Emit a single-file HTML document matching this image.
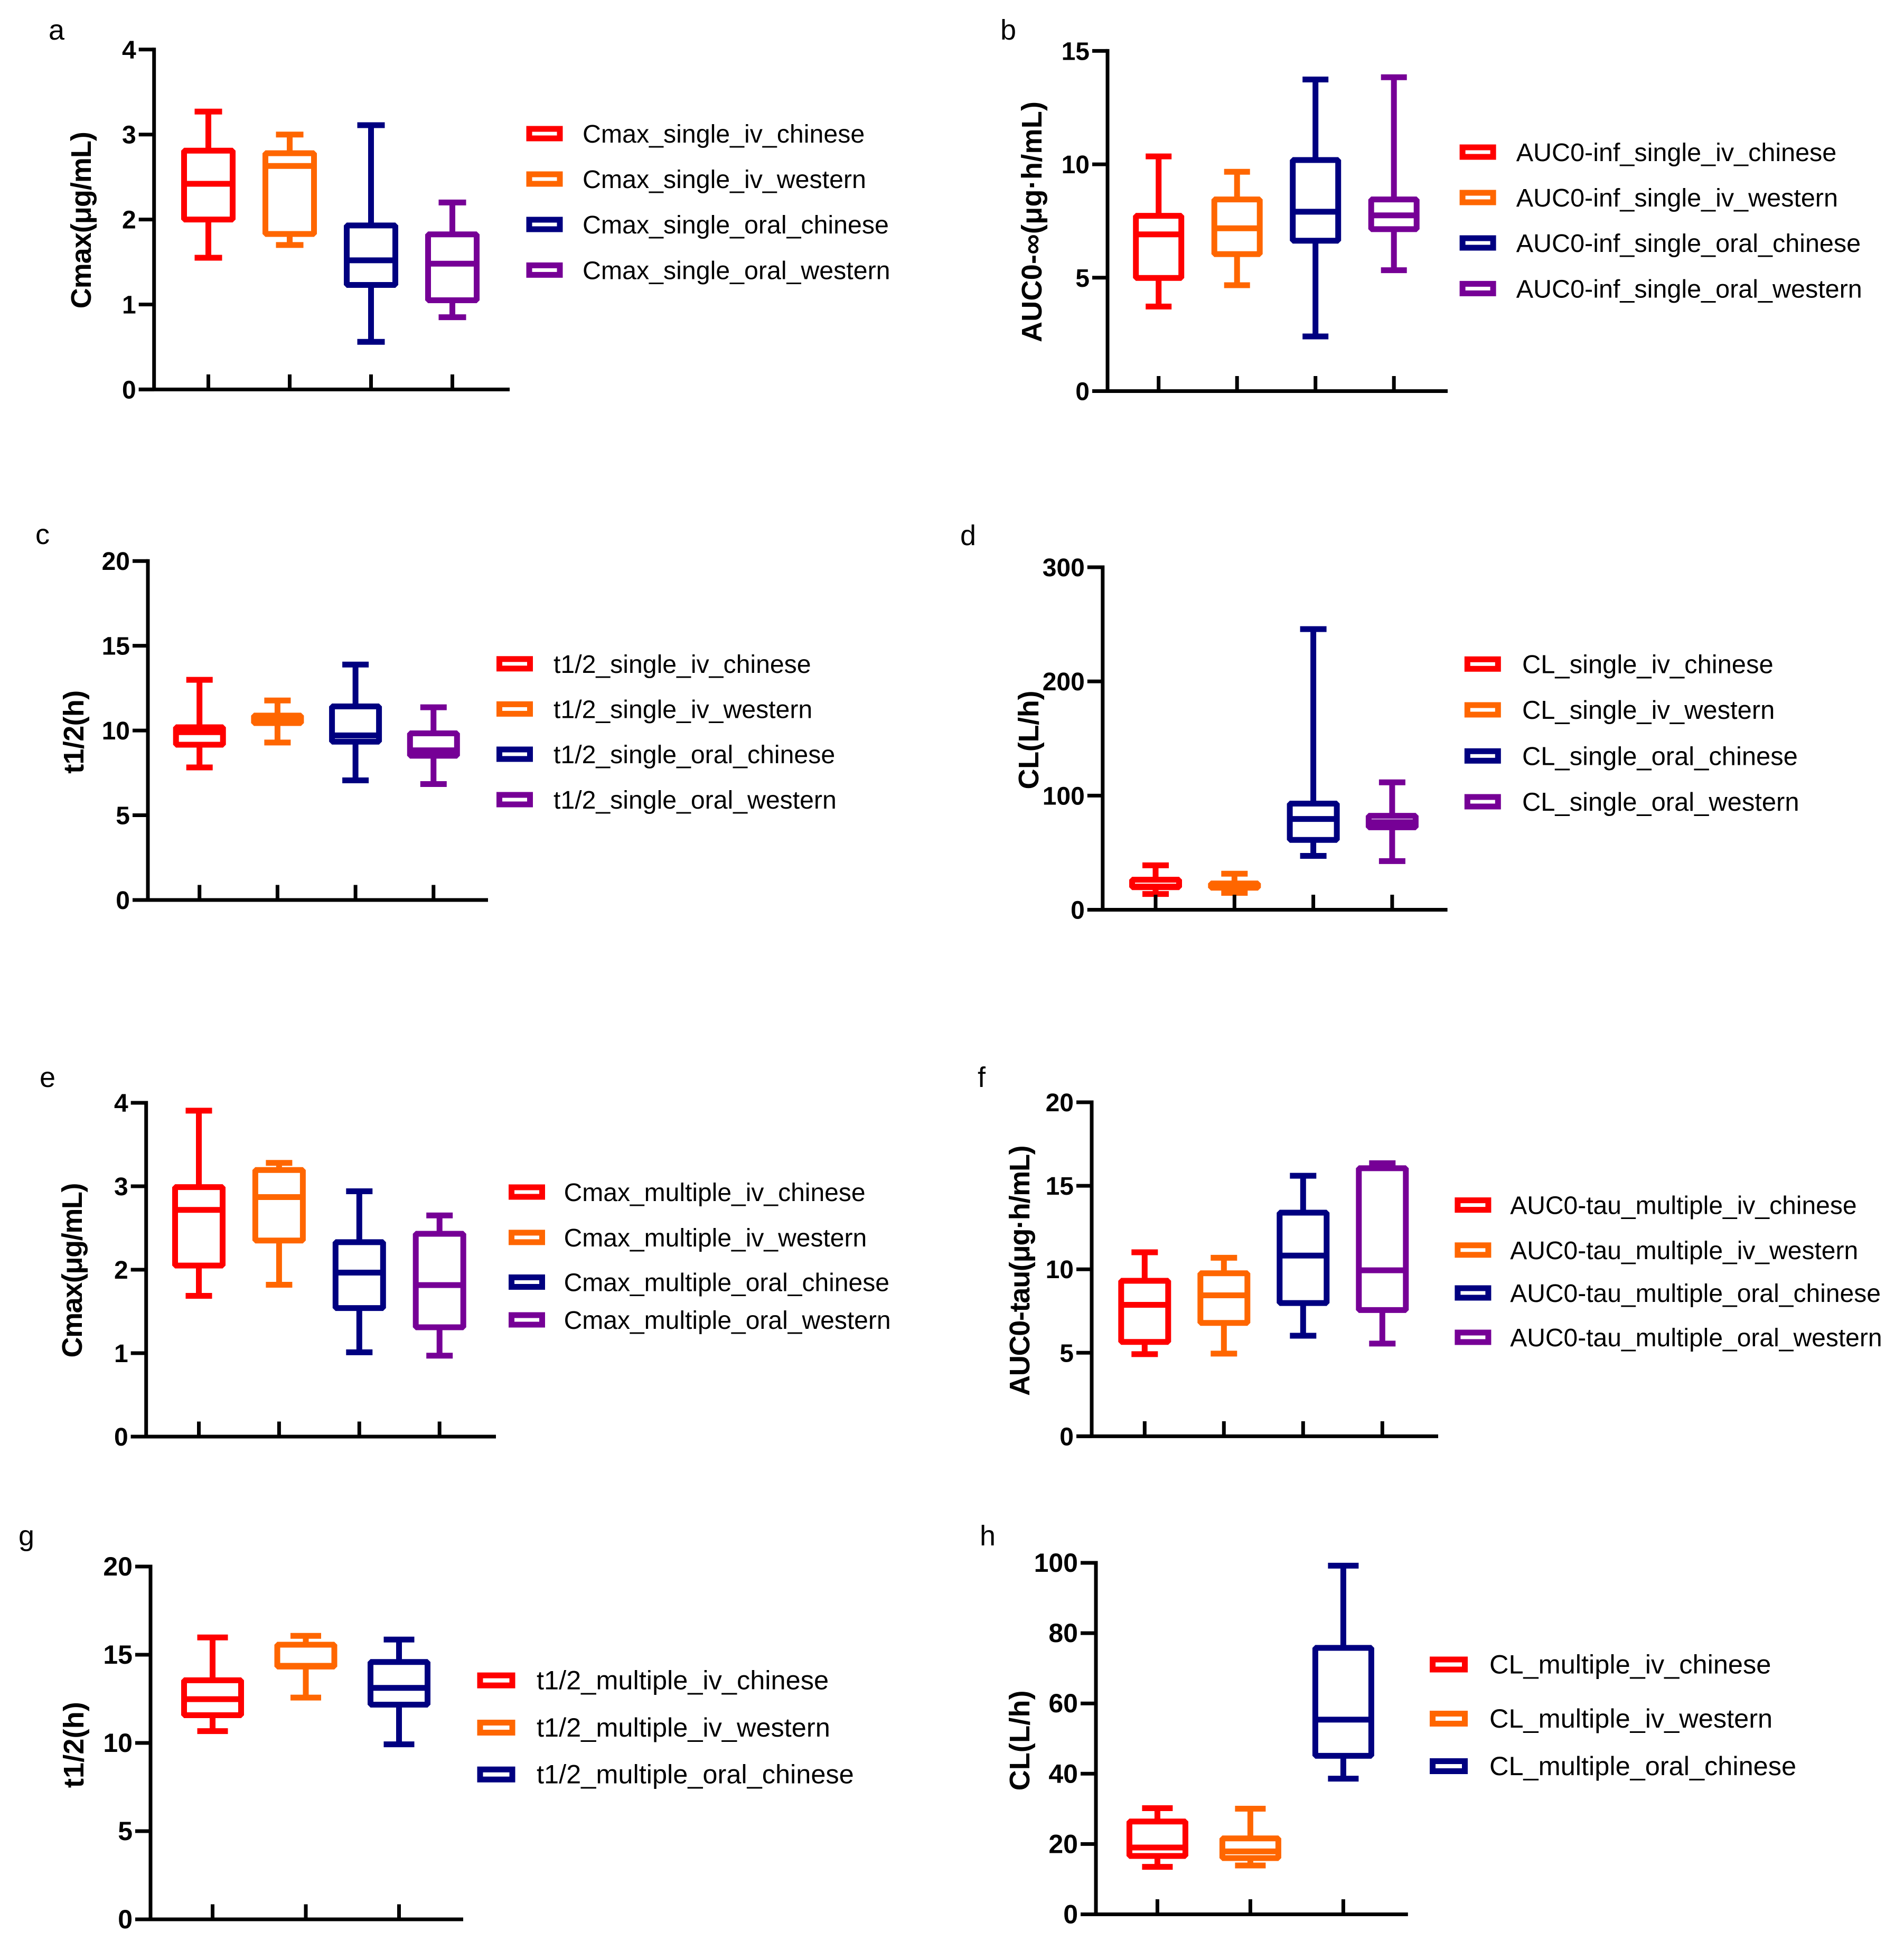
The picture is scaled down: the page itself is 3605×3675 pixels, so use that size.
<!DOCTYPE html>
<html lang="en">
<head>
<meta charset="utf-8">
<title>Pharmacokinetic box plots</title>
<style>
html,body{margin:0;padding:0;background:#fff}
svg{display:block}
text{font-family:"Liberation Sans",Arial,sans-serif;fill:#000}
</style>
</head>
<body>
<svg id="figure" xmlns="http://www.w3.org/2000/svg" width="3605" height="3675" viewBox="0 0 3605 3675"></svg>
<script>
// ---------- panel a ----------
const aLabels = ['Cmax_single_iv_chinese','Cmax_single_iv_western','Cmax_single_oral_chinese','Cmax_single_oral_western'];
const aTicks = [0,1,2,3,4];
const aMin = [1.55,1.70,0.56,0.85];
const aQ1 = [2.00,1.83,1.23,1.05];
const aMedian = [2.42,2.63,1.52,1.48];
const aQ3 = [2.81,2.78,1.93,1.825];
const aMax = [3.27,3.00,3.11,2.20];
// ---------- panel b ----------
const bLabels = ['AUC0-inf_single_iv_chinese','AUC0-inf_single_iv_western','AUC0-inf_single_oral_chinese','AUC0-inf_single_oral_western'];
const bTicks = [0,5,10,15];
const bMin = [3.73,4.67,2.41,5.33];
const bQ1 = [4.99,6.04,6.63,7.14];
const bMedian = [6.91,7.18,7.91,7.75];
const bQ3 = [7.73,8.45,10.19,8.45];
const bMax = [10.35,9.67,13.74,13.84];
// ---------- panel c ----------
const cLabels = ['t1/2_single_iv_chinese','t1/2_single_iv_western','t1/2_single_oral_chinese','t1/2_single_oral_western'];
const cTicks = [0,5,10,15,20];
const cMin = [7.82,9.29,7.06,6.84];
const cQ1 = [9.16,10.44,9.34,8.51];
const cMedian = [9.90,10.66,9.71,8.83];
const cQ3 = [10.19,10.88,11.42,9.83];
const cMax = [12.99,11.77,13.89,11.37];
// ---------- panel d ----------
const dLabels = ['CL_single_iv_chinese','CL_single_iv_western','CL_single_oral_chinese','CL_single_oral_western'];
const dTicks = [0,100,200,300];
const dMin = [13.8,14.8,47.2,42.6];
const dQ1 = [19.8,19.3,61.2,72.2];
const dMedian = [20.3,21.3,79.5,76.7];
const dQ3 = [26.3,23.0,93.0,82.3];
const dMax = [38.9,31.6,245.8,111.6];
// ---------- panel e ----------
const eLabels = ['Cmax_multiple_iv_chinese','Cmax_multiple_iv_western','Cmax_multiple_oral_chinese','Cmax_multiple_oral_western'];
const eTicks = [0,1,2,3,4];
const eMin = [1.687,1.82,1.01,0.97];
const eQ1 = [2.05,2.35,1.54,1.31];
const eMedian = [2.717,2.87,1.965,1.816];
const eQ3 = [2.99,3.195,2.33,2.43];
const eMax = [3.906,3.28,2.94,2.65];
// ---------- panel f ----------
const fLabels = ['AUC0-tau_multiple_iv_chinese','AUC0-tau_multiple_iv_western','AUC0-tau_multiple_oral_chinese','AUC0-tau_multiple_oral_western'];
const fTicks = [0,5,10,15,20];
const fMin = [4.92,4.95,6.02,5.55];
const fQ1 = [5.65,6.79,7.98,7.56];
const fMedian = [7.87,8.44,10.82,9.94];
const fQ3 = [9.31,9.76,13.39,16.05];
const fMax = [11.02,10.69,15.60,16.35];
// ---------- panel g ----------
const gLabels = ['t1/2_multiple_iv_chinese','t1/2_multiple_iv_western','t1/2_multiple_oral_chinese'];
const gTicks = [0,5,10,15,20];
const gMin = [10.67,12.57,9.92];
const gQ1 = [11.57,14.33,12.17];
const gMedian = [12.48,14.37,13.12];
const gQ3 = [13.55,15.57,14.59];
const gMax = [15.98,16.07,15.86];
// ---------- panel h ----------
const hLabels = ['CL_multiple_iv_chinese','CL_multiple_iv_western','CL_multiple_oral_chinese'];
const hTicks = [0,20,40,60,80,100];
const hMin = [13.5,13.9,38.6];
const hQ1 = [16.6,16.0,45.1];
const hMedian = [19.0,17.9,55.4];
const hQ3 = [26.4,21.6,75.8];
const hMax = [30.2,30.06,99.2];

const seriesColors = ['#ff0000','#ff6600','#000080','#760096'];

// Layout of each panel (frame only; marks derive from the data arrays above through yScale)
const panels = [
 {id:'a',letter:[92,75],title:'Cmax(μg/mL)',titleX:172,titleY:416.7,titleLen:335,axisX:291.7,top:93.8,y0:737.4,firstX:394.5,stepX:154,endX:965,boxW:92,capW:52,legSw:996.5,legTx:1103,legFont:48.3,tickFont:48,swW:58,swH:18,legYs:[253,339,425,511.4],labels:aLabels,ticks:aTicks,min:aMin,q1:aQ1,med:aMedian,q3:aQ3,max:aMax},
 {id:'b',letter:[1894,75],title:'AUC0-∞(μg·h/mL)',titleX:1972,titleY:420,titleLen:456,axisX:2097,top:96.4,y0:740.5,firstX:2193.7,stepX:148.5,endX:2741,boxW:86,capW:49,legSw:2763.6,legTx:2870.7,legFont:48.5,tickFont:48,swW:58,swH:18,legYs:[288,374,460,546.4],labels:bLabels,ticks:bTicks,min:bMin,q1:bQ1,med:bMedian,q3:bQ3,max:bMax},
 {id:'c',letter:[67,1030],title:'t1/2(h)',titleX:158,titleY:1385.8,titleLen:158,axisX:280,top:1062.2,y0:1704,firstX:377.7,stepX:147.7,endX:924,boxW:89,capW:50,legSw:940,legTx:1048,legFont:48.2,tickFont:48,swW:58,swH:18,legYs:[1256.8,1342.4,1428,1514],labels:cLabels,ticks:cTicks,min:cMin,q1:cQ1,med:cMedian,q3:cQ3,max:cMax},
 {id:'d',letter:[1818,1032],title:'CL(L/h)',titleX:1966,titleY:1401,titleLen:187,axisX:2087.8,top:1074,y0:1722.5,firstX:2188,stepX:149.3,endX:2740.6,boxW:89,capW:50,legSw:2772.8,legTx:2882,legFont:48.9,tickFont:48,swW:58,swH:18,legYs:[1257.3,1344,1431.3,1518],labels:dLabels,ticks:dTicks,min:dMin,q1:dQ1,med:dMedian,q3:dQ3,max:dMax},
 {id:'e',letter:[75,2058],title:'Cmax(μg/mL)',titleX:155,titleY:2405,titleLen:331,axisX:276.7,top:2088,y0:2720,firstX:376.5,stepX:151.9,endX:939,boxW:90,capW:50,legSw:963,legTx:1067.6,legFont:48,tickFont:48,swW:58,swH:18,legYs:[2257,2342.9,2427.5,2499],labels:eLabels,ticks:eTicks,min:eMin,q1:eQ1,med:eMedian,q3:eQ3,max:eMax},
 {id:'f',letter:[1851,2058],title:'AUC0-tau(μg·h/mL)',titleX:1949,titleY:2405.6,titleLen:474.5,axisX:2067,top:2087,y0:2719.4,firstX:2167.3,stepX:150,endX:2723,boxW:89,capW:50,legSw:2754.4,legTx:2859.2,legFont:48,tickFont:48,swW:58,swH:18,legYs:[2281.6,2366.8,2448,2532],labels:fLabels,ticks:fTicks,min:fMin,q1:fQ1,med:fMedian,q3:fQ3,max:fMax},
 {id:'g',letter:[35,2926],title:'t1/2(h)',titleX:158,titleY:3303.6,titleLen:163,axisX:285,top:2966,y0:3634,firstX:402.5,stepX:176.5,endX:877,boxW:108,capW:58,legSw:903.5,legTx:1016,legFont:50.5,tickFont:50,swW:61,swH:19,legYs:[3181.6,3271,3359.7],labels:gLabels,ticks:gTicks,min:gMin,q1:gQ1,med:gMedian,q3:gQ3,max:gMax},
 {id:'h',letter:[1855,2926],title:'CL(L/h)',titleX:1949,titleY:3295.4,titleLen:190,axisX:2075,top:2959,y0:3624.5,firstX:2191.4,stepX:176,endX:2665.8,boxW:106,capW:58,legSw:2707,legTx:2820,legFont:50.5,tickFont:50,swW:61,swH:19,legYs:[3151.5,3254,3344],labels:hLabels,ticks:hTicks,min:hMin,q1:hQ1,med:hMedian,q3:hQ3,max:hMax}
];

const SVGNS = 'http://www.w3.org/2000/svg';
const root = document.getElementById('figure');
const AXIS_W = 7, MARK_W = 11, TICK_L = 29, XTICK_L = 28.5;

function make(tag, parent, attrs, txt){
  const el = document.createElementNS(SVGNS, tag);
  for (const k in attrs) el.setAttribute(k, attrs[k]);
  if (txt !== undefined) el.textContent = txt;
  parent.appendChild(el);
  return el;
}
function hLine(parent,x1,x2,y,w,c){return make('line',parent,{x1:x1,x2:x2,y1:y,y2:y,stroke:c,'stroke-width':w});}
function vLine(parent,x,y1,y2,w,c){return make('line',parent,{x1:x,x2:x,y1:y1,y2:y2,stroke:c,'stroke-width':w});}

panels.forEach(function(p){
  const tickMax = p.ticks[p.ticks.length-1];
  const yScale = function(v){return p.y0 - (v/tickMax)*(p.y0-p.top);};
  const xScale = function(i){return p.firstX + i*p.stepX;};

  const g = make('g',root,{});
  
  

  const letter = make('text',g,{x:p.letter[0],y:p.letter[1],'font-size':54},p.id);
  
  

  const title = make('text',g,{x:p.titleX,y:p.titleY,'font-size':54,'font-weight':'bold','text-anchor':'middle',textLength:p.titleLen,lengthAdjust:'spacing',transform:'rotate(-90 '+p.titleX+' '+p.titleY+')'},p.title);
  
  

  // boxes
  p.labels.forEach(function(lab,i){
    const c = seriesColors[i], x = xScale(i);
    const box = make('g',g,{});
    
    

    const wUp = vLine(box,x,yScale(p.max[i]),yScale(p.q3[i]),MARK_W,c);
    
    
    const wDn = vLine(box,x,yScale(p.q1[i]),yScale(p.min[i]),MARK_W,c);
    
    
    const capUp = hLine(box,x-p.capW/2,x+p.capW/2,yScale(p.max[i]),MARK_W,c);
    
    
    const capDn = hLine(box,x-p.capW/2,x+p.capW/2,yScale(p.min[i]),MARK_W,c);
    
    
    const rect = make('rect',box,{x:x-p.boxW/2,y:yScale(p.q3[i]),width:p.boxW,height:yScale(p.q1[i])-yScale(p.q3[i]),fill:'none',stroke:c,'stroke-width':MARK_W,'stroke-linejoin':'bevel'});
    
    
    const med = hLine(box,x-p.boxW/2,x+p.boxW/2,yScale(p.med[i]),MARK_W,c);
    
    
  });

  // axes
  const yAxis = vLine(g,p.axisX,p.top-AXIS_W/2,p.y0,AXIS_W,'#000');
  
  
  const xAxis = hLine(g,p.axisX-TICK_L,p.endX,p.y0,AXIS_W,'#000');
  
  

  p.ticks.forEach(function(t){
    const y = yScale(t);
    const tk = hLine(g,p.axisX-TICK_L,p.axisX,y,AXIS_W,'#000');
    
    
    const tl = make('text',g,{x:p.axisX-TICK_L-5,y:y+17,'font-size':p.tickFont,'font-weight':'bold','text-anchor':'end'},String(t));
    
    
  });
  p.labels.forEach(function(lab,i){
    const x = xScale(i);
    const tk = vLine(g,x,p.y0-XTICK_L,p.y0,AXIS_W,'#000');
    
    
  });

  // legend
  p.labels.forEach(function(lab,i){
    const ly = p.legYs[i];
    const entry = make('g',g,{});
    
    
    const sw = make('rect',entry,{x:p.legSw+5.5,y:ly-p.swH/2,width:p.swW,height:p.swH,fill:'#fff',stroke:seriesColors[i],'stroke-width':MARK_W});
    
    
    const tx = make('text',entry,{x:p.legTx,y:ly+17,'font-size':p.legFont},lab);
    
    
  });
});
</script>
</body>
</html>
